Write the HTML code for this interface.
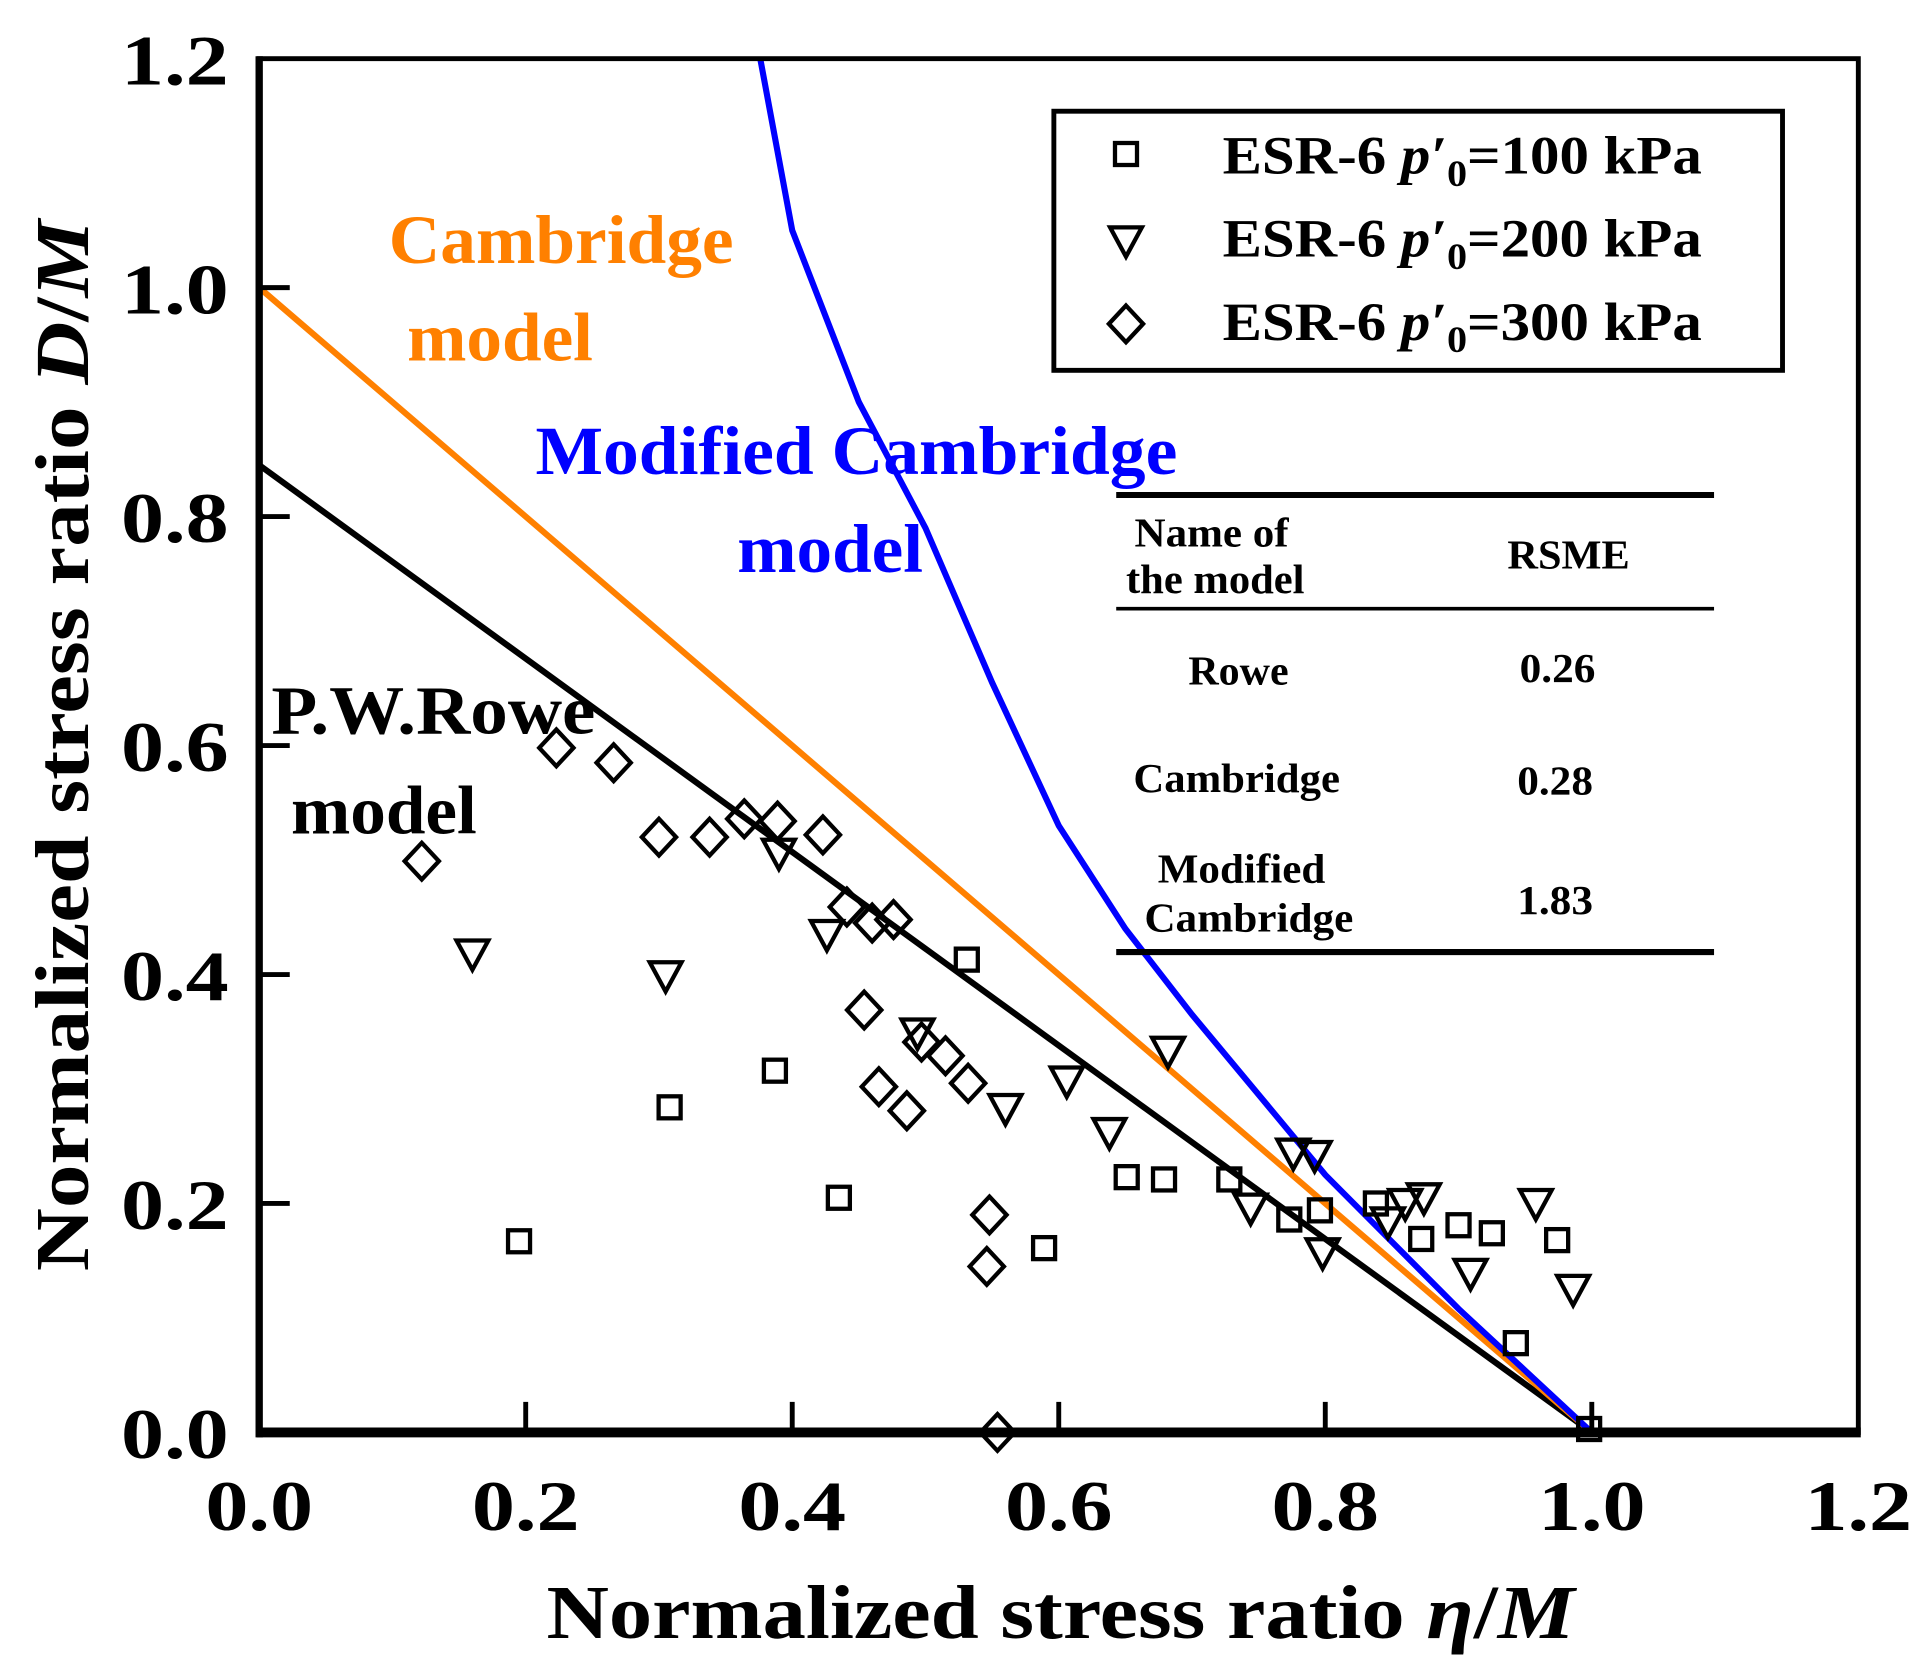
<!DOCTYPE html>
<html><head><meta charset="utf-8"><style>html,body{margin:0;padding:0;background:#fff}svg{display:block}text{font-family:"Liberation Serif",serif;font-weight:bold}</style></head>
<body>
<svg id="chart" width="1917" height="1672" viewBox="0 0 1568 1368" preserveAspectRatio="none" xmlns="http://www.w3.org/2000/svg">
<g id="lines"></g>
<g id="marks"></g>
<rect x="212" y="48" width="1308" height="1124" fill="none" stroke="#000" stroke-width="4"/>
<line x1="210" y1="1172" x2="1522" y2="1172" stroke="#000" stroke-width="8"/>
<line x1="212" y1="46" x2="212" y2="1176" stroke="#000" stroke-width="6"/>
<g id="ticks"></g>
<text transform="translate(72,610) rotate(-90)" text-anchor="middle" font-size="62" textLength="860" lengthAdjust="spacingAndGlyphs">Normalized stress ratio <tspan font-style="italic">D</tspan>/<tspan font-style="italic">M</tspan></text>
<text x="447" y="1340" font-size="62" textLength="841" lengthAdjust="spacingAndGlyphs">Normalized stress ratio <tspan font-style="italic">η</tspan>/<tspan font-style="italic">M</tspan></text>
<g font-size="56">
<text x="318" y="215" fill="#ff8000" textLength="282" lengthAdjust="spacingAndGlyphs">Cambridge</text>
<text x="333" y="295" fill="#ff8000" textLength="152" lengthAdjust="spacingAndGlyphs">model</text>
<text x="438" y="388" fill="#0000ff" textLength="525" lengthAdjust="spacingAndGlyphs">Modified Cambridge</text>
<text x="603" y="468" fill="#0000ff" textLength="152" lengthAdjust="spacingAndGlyphs">model</text>
<text x="222" y="600" fill="#000" textLength="265" lengthAdjust="spacingAndGlyphs">P.W.Rowe</text>
<text x="238" y="682" fill="#000" textLength="152" lengthAdjust="spacingAndGlyphs">model</text>
</g>
<g>
<rect x="862" y="91" width="596" height="212" fill="#fff" stroke="#000" stroke-width="4"/>
<rect x="912" y="117" width="18" height="18" fill="none" stroke="#000" stroke-width="3.5"/>
<polygon points="908,186 934,186 921,210" fill="none" stroke="#000" stroke-width="3.5"/>
<polygon points="921,250 935,265 921,280 907,265" fill="none" stroke="#000" stroke-width="3.5"/>
<text x="1000" y="142" font-size="44" textLength="392" lengthAdjust="spacingAndGlyphs">ESR-6  <tspan font-style="italic">p′</tspan><tspan font-size="30" dy="10">0</tspan><tspan dy="-10">=100 kPa</tspan></text>
<text x="1000" y="210" font-size="44" textLength="392" lengthAdjust="spacingAndGlyphs">ESR-6  <tspan font-style="italic">p′</tspan><tspan font-size="30" dy="10">0</tspan><tspan dy="-10">=200 kPa</tspan></text>
<text x="1000" y="278" font-size="44" textLength="392" lengthAdjust="spacingAndGlyphs">ESR-6  <tspan font-style="italic">p′</tspan><tspan font-size="30" dy="10">0</tspan><tspan dy="-10">=300 kPa</tspan></text>
</g>
<g font-size="34">
<line x1="913" y1="405" x2="1402" y2="405" stroke="#000" stroke-width="5"/>
<line x1="913" y1="498" x2="1402" y2="498" stroke="#000" stroke-width="3"/>
<line x1="913" y1="779" x2="1402" y2="779" stroke="#000" stroke-width="5"/>
<text x="928" y="447" textLength="126" lengthAdjust="spacingAndGlyphs">Name of</text>
<text x="921" y="485" textLength="146" lengthAdjust="spacingAndGlyphs">the model</text>
<text x="1233" y="465" textLength="100" lengthAdjust="spacingAndGlyphs">RSME</text>
<text x="972" y="560" textLength="82" lengthAdjust="spacingAndGlyphs">Rowe</text>
<text x="1243" y="558" textLength="62" lengthAdjust="spacingAndGlyphs">0.26</text>
<text x="927" y="648" textLength="169" lengthAdjust="spacingAndGlyphs">Cambridge</text>
<text x="1241" y="650" textLength="62" lengthAdjust="spacingAndGlyphs">0.28</text>
<text x="947" y="722" textLength="137" lengthAdjust="spacingAndGlyphs">Modified</text>
<text x="936" y="762" textLength="171" lengthAdjust="spacingAndGlyphs">Cambridge</text>
<text x="1241" y="748" textLength="62" lengthAdjust="spacingAndGlyphs">1.83</text>
</g>
</svg>
<script>
const xTicks=["0.0","0.2","0.4","0.6","0.8","1.0","1.2"];
const yTicks=["0.0","0.2","0.4","0.6","0.8","1.0","1.2"];
const camX=[0,1],camY=[1,0];
const roweX=[0,1],roweY=[0.845,0];
const mccX=[0.376,0.4,0.45,0.5,0.55,0.6,0.65,0.7,0.75,0.8,0.9,1.0];
const mccY=[1.2,1.05,0.9,0.79,0.655,0.53,0.44,0.365,0.295,0.225,0.108,0];
const sqX=[0.195,0.308,0.387,0.435,0.531,0.589,0.651,0.679,0.728,0.773,0.796,0.838,0.872,0.9,0.925,0.974,0.943,0.998];
const sqY=[0.167,0.284,0.316,0.205,0.413,0.161,0.223,0.221,0.221,0.186,0.194,0.2,0.169,0.181,0.174,0.168,0.078,0.003];
const triX=[0.16,0.305,0.39,0.426,0.494,0.56,0.606,0.638,0.682,0.744,0.776,0.792,0.798,0.847,0.874,0.909,0.958,0.986,0.86];
const triY=[0.418,0.399,0.506,0.435,0.349,0.283,0.307,0.262,0.333,0.196,0.244,0.242,0.157,0.184,0.205,0.139,0.2,0.125,0.2];
const diaX=[0.122,0.223,0.266,0.3,0.338,0.364,0.389,0.423,0.441,0.46,0.476,0.454,0.465,0.486,0.497,0.515,0.532,0.548,0.546,0.554];
const diaY=[0.499,0.598,0.585,0.52,0.52,0.536,0.534,0.522,0.459,0.445,0.448,0.369,0.302,0.281,0.341,0.329,0.305,0.19,0.145,0.0];
const NS="http://www.w3.org/2000/svg";
const sx=v=>212+v/1.2*1308, sy=v=>1172-v/1.2*1124;
function mk(t,a){const e=document.createElementNS(NS,t);for(const k in a)e.setAttribute(k,a[k]);return e;}
const tk=document.getElementById('ticks');
xTicks.forEach((l,i)=>{const v=parseFloat(l),x=sx(v);
 if(i>0&&i<xTicks.length-1){const t=mk('line',{x1:x,y1:1172,x2:x,y2:1147,stroke:'#000','stroke-width':4});
 
 tk.appendChild(t);}
 const tx=mk('text',{x:x,y:1252,'text-anchor':'middle','font-size':58,textLength:88,lengthAdjust:'spacingAndGlyphs'});tx.textContent=l;
 
 tk.appendChild(tx);});
yTicks.forEach((l,i)=>{const v=parseFloat(l),y=sy(v);
 if(i>0&&i<yTicks.length-1){const t=mk('line',{x1:212,y1:y,x2:237,y2:y,stroke:'#000','stroke-width':4});
 
 tk.appendChild(t);}
 const tx=mk('text',{x:187,y:y+21,'text-anchor':'end','font-size':58,textLength:88,lengthAdjust:'spacingAndGlyphs'});tx.textContent=l;
 
 tk.appendChild(tx);});
const lg=document.getElementById('lines');
function line(xs,ys,c,name){const p=mk('polyline',{points:xs.map((x,i)=>sx(x)+','+sy(ys[i])).join(' '),fill:'none',stroke:c,'stroke-width':5});
 
 lg.appendChild(p);}
line(roweX,roweY,'#000','rowe-line');
line(camX,camY,'#ff8000','cambridge-line');
line(mccX,mccY,'#0000ff','modified-cambridge-line');
const mg=document.getElementById('marks');
sqX.forEach((x,i)=>{const e=mk('rect',{x:sx(x)-9,y:sy(sqY[i])-9,width:18,height:18,fill:'none',stroke:'#000','stroke-width':3.5});
 
 mg.appendChild(e);});
triX.forEach((x,i)=>{const cx=sx(x),cy=sy(triY[i]);const e=mk('polygon',{points:`${cx-13},${cy-11} ${cx+13},${cy-11} ${cx},${cy+13}`,fill:'none',stroke:'#000','stroke-width':3.5});
 
 mg.appendChild(e);});
diaX.forEach((x,i)=>{const cx=sx(x),cy=sy(diaY[i]);const e=mk('polygon',{points:`${cx},${cy-15} ${cx+14},${cy} ${cx},${cy+15} ${cx-14},${cy}`,fill:'none',stroke:'#000','stroke-width':3.5});
 
 mg.appendChild(e);});
</script>
</body></html>
